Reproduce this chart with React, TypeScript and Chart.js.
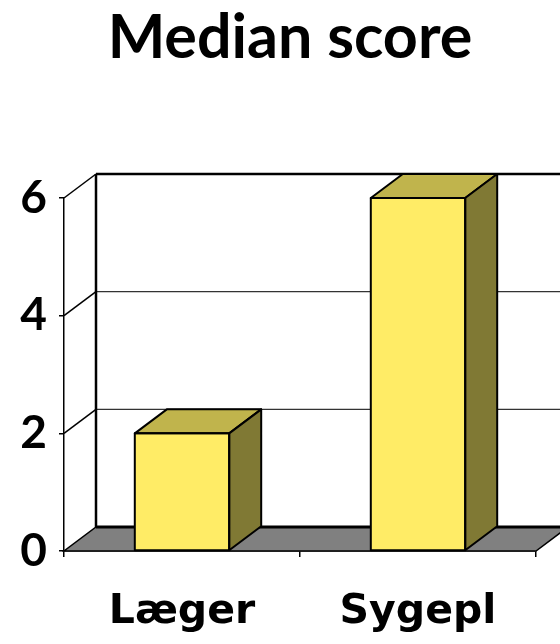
import React, { useEffect, useRef } from "react";
import { Chart, registerables } from "chart.js";

Chart.register(...registerables);

const categories = ["Læger", "Sygepl"];
const medianScores = [2, 6];
const yTicks = [0, 2, 4, 6];
const chartTitle = "Median score";

const DX = 32;
const DY = 24;
const FONT = "Lato, 'DejaVu Sans', sans-serif";
const LABEL_FONT = "'DejaVu Sans', Lato, sans-serif";

const FRONT = "#FFEC66";
const TOP = "#C0B44C";
const SIDE = "#807934";
const FLOOR = "#808080";

const depthPlugin = {
  id: "depth3d",
  beforeDatasetsDraw(chart: any) {
    const { ctx, chartArea, scales } = chart;
    const y = scales.y;
    const left = chartArea.left;
    const right = chartArea.right;
    const W = chart.width;
    ctx.save();
    yTicks.forEach((v) => {
      const py = y.getPixelForValue(v);
      if (v === 0) return;
      const isTop = v === yTicks[yTicks.length - 1];
      ctx.beginPath();
      ctx.strokeStyle = isTop ? "#000" : "#333";
      ctx.lineWidth = isTop ? 2.5 : 1.2;
      ctx.moveTo(left + DX, py - DY);
      ctx.lineTo(W + 10, py - DY);
      ctx.stroke();
      ctx.beginPath();
      ctx.strokeStyle = "#000";
      ctx.lineWidth = 1.5;
      ctx.moveTo(left, py);
      ctx.lineTo(left + DX, py - DY);
      ctx.stroke();
    });
    const yTop = y.getPixelForValue(yTicks[yTicks.length - 1]);
    const y0 = y.getPixelForValue(0);
    ctx.beginPath();
    ctx.strokeStyle = "#000";
    ctx.lineWidth = 2.5;
    ctx.moveTo(left + DX, yTop - DY);
    ctx.lineTo(left + DX, y0 - DY);
    ctx.stroke();
    ctx.beginPath();
    ctx.moveTo(left, y0);
    ctx.lineTo(right, y0);
    ctx.lineTo(right + DX, y0 - DY);
    ctx.lineTo(left + DX, y0 - DY);
    ctx.closePath();
    ctx.fillStyle = FLOOR;
    ctx.fill();
    ctx.strokeStyle = "#000";
    ctx.lineWidth = 1.5;
    ctx.stroke();
    ctx.beginPath();
    ctx.lineWidth = 3;
    ctx.moveTo(left + DX, y0 - DY);
    ctx.lineTo(W + 10, y0 - DY);
    ctx.stroke();
    ctx.restore();
  },
  afterDatasetsDraw(chart: any) {
    const { ctx } = chart;
    const meta = chart.getDatasetMeta(0);
    ctx.save();
    ctx.strokeStyle = "#000";
    ctx.lineWidth = 2;
    ctx.lineJoin = "round";
    meta.data.forEach((bar: any) => {
      const { x, y, base, width } = bar.getProps(["x", "y", "base", "width"], true);
      const xl = x - width / 2;
      const xr = x + width / 2;
      ctx.beginPath();
      ctx.moveTo(xl, y);
      ctx.lineTo(xl + DX, y - DY);
      ctx.lineTo(xr + DX, y - DY);
      ctx.lineTo(xr, y);
      ctx.closePath();
      ctx.fillStyle = TOP;
      ctx.fill();
      ctx.stroke();
      ctx.beginPath();
      ctx.moveTo(xr, y);
      ctx.lineTo(xr + DX, y - DY);
      ctx.lineTo(xr + DX, base - DY);
      ctx.lineTo(xr, base);
      ctx.closePath();
      ctx.fillStyle = SIDE;
      ctx.fill();
      ctx.stroke();
      ctx.strokeRect(xl, y, width, base - y);
    });
    ctx.restore();
  },
  afterDraw(chart: any) {
    const { ctx } = chart;
    ctx.save();
    ctx.fillStyle = "#000";
    ctx.font = `bold 61px ${FONT}`;
    ctx.textAlign = "center";
    ctx.textBaseline = "alphabetic";
    ctx.fillText(chartTitle, 290, 58);
    ctx.restore();
  },
};

export default function App() {
  const ref = useRef<HTMLCanvasElement | null>(null);
  useEffect(() => {
    if (!ref.current) return;
    const chart = new Chart(ref.current, {
      type: "bar",
      data: {
        labels: categories,
        datasets: [
          {
            data: medianScores,
            backgroundColor: FRONT,
            borderColor: "#000",
            borderWidth: 0,
            barPercentage: 0.4,
            categoryPercentage: 1,
          },
        ],
      },
      options: {
        responsive: false,
        animation: false,
        layout: { padding: { left: 0, right: 24, top: 198, bottom: 0 } },
        plugins: {
          legend: { display: false },
          tooltip: { enabled: false },
          title: { display: false },
        },
        scales: {
          x: {
            grid: { drawOnChartArea: false, drawTicks: true, tickLength: 6, color: "#000", lineWidth: 1.5 },
            border: { display: true, color: "#000", width: 1.5 },
            ticks: { color: "#000", font: { family: LABEL_FONT, size: 41, weight: "bold" }, padding: 31 },
            afterFit: (s: any) => {
              s.height = 93;
            },
          },
          y: {
            min: 0,
            max: 6,
            afterBuildTicks: (s: any) => {
              s.ticks = yTicks.map((v) => ({ value: v }));
            },
            grid: { drawOnChartArea: false, drawTicks: true, tickLength: 5, color: "#000", lineWidth: 1.5 },
            border: { display: true, color: "#000", width: 1.5 },
            ticks: { color: "#000", font: { family: FONT, size: 46, weight: "bold" }, padding: 12 },
            afterFit: (s: any) => {
              s.width = 64;
            },
          },
        },
      },
      plugins: [depthPlugin],
    });
    return () => chart.destroy();
  }, []);
  return (
    <div style={{ position: "fixed", left: 0, top: 0, width: 560, height: 644, background: "#fff" }}>
      <canvas ref={ref} width={560} height={644} style={{ display: "block" }} />
    </div>
  );
}
